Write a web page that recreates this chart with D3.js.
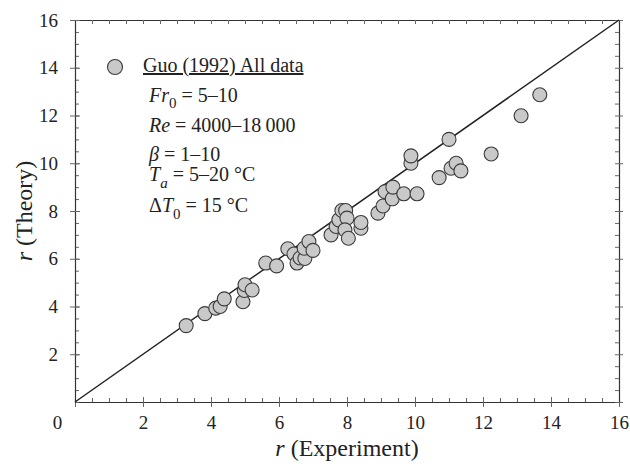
<!DOCTYPE html>
<html>
<head>
<meta charset="utf-8">
<script src="https://cdn.jsdelivr.net/npm/d3@7"></script>
<style>
  @font-face {
    font-family: "PlotSerif";
    src: local("Liberation Serif"), local("LiberationSerif"), local("LiberationSerif-Regular"),
         local("Times New Roman"), local("DejaVu Serif"), local("DejaVuSerif"), local("Noto Serif");
    font-style: normal;
  }
  @font-face {
    font-family: "PlotSerif";
    src: local("Liberation Serif Italic"), local("LiberationSerif-Italic"),
         local("Times New Roman Italic"), local("DejaVu Serif Italic"), local("DejaVuSerif-Italic"), local("Noto Serif Italic");
    font-style: italic;
  }
  html, body { margin: 0; padding: 0; background: #fff; }
  svg { display: block; }
</style>
</head>
<body>
<svg id="chart" width="630" height="466"></svg>
<script>
// Spread ratio r: experiment vs. theory (Guo 1992, all data)
const rExperiment = [3.27, 3.82, 4.14, 4.27, 4.39, 4.94, 4.98, 5.0, 5.21, 5.61,
  5.93, 6.26, 6.44, 6.53, 6.62, 6.76, 6.74, 6.88, 7.0, 7.53,
  7.68, 7.76, 7.85, 7.96, 8.0, 7.94, 8.04, 8.41, 8.41, 8.91,
  9.06, 9.12, 9.33, 9.35, 9.67, 9.88, 9.88, 10.06, 10.71, 11.0,
  11.06, 11.21, 11.35, 12.24, 13.12, 13.67];
const rTheory = [3.2, 3.7, 3.93, 4.0, 4.32, 4.2, 4.67, 4.91, 4.69, 5.82,
  5.7, 6.42, 6.2, 5.82, 6.03, 6.01, 6.44, 6.72, 6.35, 7.0,
  7.35, 7.63, 8.02, 8.02, 7.7, 7.21, 6.86, 7.28, 7.52, 7.91,
  8.21, 8.81, 8.51, 9.0, 8.72, 10.0, 10.31, 8.72, 9.4, 11.0,
  9.79, 10.0, 9.68, 10.39, 11.99, 12.87];

const majorTicks = [0, 2, 4, 6, 8, 10, 12, 14, 16];
const minorTicks = d3.range(0, 16.01, 0.5);
const domain = [0, 16];

const legendTitle = "Guo (1992) All data";

const FONT = '"Liberation Serif", "PlotSerif", "Times New Roman", Tinos, "DejaVu Serif", serif';

const svg = d3.select("#chart").style("font-family", FONT);
const W = 630, H = 466;
const m = { left: 75, right: 11, top: 20, bottom: 64 };
const x = d3.scaleLinear().domain(domain).range([m.left, W - m.right]);
const y = d3.scaleLinear().domain(domain).range([H - m.bottom, m.top]);

const frameCol = "#333";
const tickCol = "#666";

// Bottom axis: minor ticks inward, majors crossing the frame
const gb = svg.append("g").attr("transform", `translate(0,${y(0)})`);
gb.call(d3.axisBottom(x).tickValues(minorTicks).tickSize(-4).tickSizeOuter(0).tickFormat(""));
gb.call(g => g.select(".domain").remove());
const gb2 = svg.append("g").attr("transform", `translate(0,${y(0)})`);
gb2.call(d3.axisBottom(x).tickValues(majorTicks).tickSizeInner(5).tickSizeOuter(0)
  .tickPadding(9).tickFormat(d3.format("d")));
gb2.selectAll(".tick line").attr("y1", -5);

// Top axis
const gt = svg.append("g").attr("transform", `translate(0,${y(16)})`);
gt.call(d3.axisTop(x).tickValues(minorTicks).tickSize(-4).tickSizeOuter(0).tickFormat(""));

// Left axis
const gl = svg.append("g").attr("transform", `translate(${x(0)},0)`);
gl.call(d3.axisLeft(y).tickValues(minorTicks).tickSize(-4).tickSizeOuter(0).tickFormat(""));
gl.call(g => g.select(".domain").remove());
const gl2 = svg.append("g").attr("transform", `translate(${x(0)},0)`);
gl2.call(d3.axisLeft(y).tickValues(majorTicks.filter(d => d > 0)).tickSizeInner(5).tickSizeOuter(0)
  .tickPadding(12).tickFormat(d3.format("d")));
gl2.selectAll(".tick line").attr("x1", 5);

// Right axis
const gr = svg.append("g").attr("transform", `translate(${x(16)},0)`);
gr.call(d3.axisRight(y).tickValues(minorTicks).tickSize(-4).tickSizeOuter(0).tickFormat(""));
gr.selectAll(".tick").filter(d => majorTicks.includes(d)).select("line").attr("x1", 4);

svg.selectAll("g").attr("font-family", null);
svg.selectAll(".domain").attr("stroke", frameCol).attr("stroke-width", 1.2);
svg.selectAll(".tick line").attr("stroke", tickCol).attr("stroke-width", 1);
svg.selectAll(".tick text")
  .style("font-family", FONT).style("font-size", "19px").attr("fill", "#222");

// Leading "0" on the x axis sits left of the corner
gb2.selectAll(".tick").filter(d => d === 0).select("text").attr("dx", -18);

// Line of perfect agreement
svg.append("line")
  .attr("x1", x(0)).attr("y1", y(0))
  .attr("x2", x(16)).attr("y2", y(16))
  .attr("stroke", "#222").attr("stroke-width", 1.5);

// Data points
svg.append("g").selectAll("circle")
  .data(rExperiment.map((d, i) => [d, rTheory[i]]))
  .join("circle")
  .attr("cx", d => x(d[0]))
  .attr("cy", d => y(d[1]))
  .attr("r", 7)
  .attr("fill", "#c9c9c9")
  .attr("stroke", "#3a3a3a")
  .attr("stroke-width", 1.1);

// Axis titles
svg.append("text")
  .attr("x", (x(0) + x(16)) / 2).attr("y", 456)
  .attr("text-anchor", "middle")
  .style("font-family", FONT).style("font-size", "24px").attr("fill", "#222")
  .html('<tspan font-style="italic">r</tspan> (Experiment)');
svg.append("text")
  .attr("transform", `translate(32,${(y(0) + y(16)) / 2}) rotate(-90)`)
  .attr("text-anchor", "middle")
  .style("font-family", FONT).style("font-size", "24px").attr("fill", "#222")
  .html('<tspan font-style="italic">r</tspan> (Theory)');

// Legend
const lg = svg.append("g");
lg.append("circle").attr("cx", 115).attr("cy", 67).attr("r", 7.5)
  .attr("fill", "#c9c9c9").attr("stroke", "#3a3a3a").attr("stroke-width", 1.1);
lg.append("text").attr("x", 143).attr("y", 72)
  .style("font-family", FONT).style("font-size", "20px").attr("fill", "#222")
  .attr("text-decoration", "underline").text(legendTitle);

const legendLines = [
  { y: 102, html: '<tspan font-style="italic">Fr</tspan><tspan dy="6" font-size="15">0</tspan><tspan dy="-6"> = 5–10</tspan>' },
  { y: 132, html: '<tspan font-style="italic">Re</tspan> = 4000–18\u2009000' },
  { y: 161, html: '<tspan font-style="italic">β</tspan> = 1–10' },
  { y: 181, html: '<tspan font-style="italic">T</tspan><tspan dy="7" font-size="15" font-style="italic">a</tspan><tspan dy="-7"> = 5–20 °C</tspan>' },
  { y: 212, html: 'Δ<tspan font-style="italic">T</tspan><tspan dy="7" font-size="15">0</tspan><tspan dy="-7"> = 15 °C</tspan>' }
];
lg.selectAll("text.param").data(legendLines).join("text")
  .attr("class", "param")
  .attr("x", 149).attr("y", d => d.y)
  .style("font-family", FONT).style("font-size", "20px").attr("fill", "#222")
  .html(d => d.html);
</script>
</body>
</html>
